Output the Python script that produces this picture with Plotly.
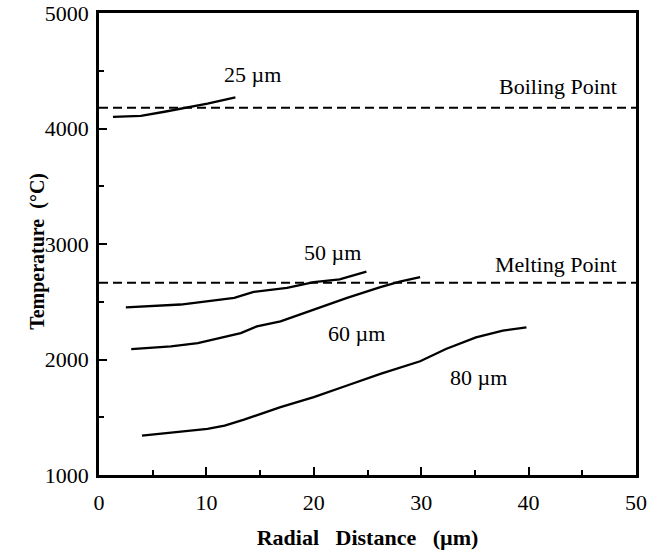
import plotly.graph_objects as go

# Data
x_25 = [1.3, 3.9, 6.1, 8.2, 10.1, 12.7]
y_25 = [4100, 4110, 4145, 4180, 4215, 4270]

x_50 = [2.5, 7.6, 12.6, 14.4, 17.5, 20.0, 22.4, 24.9]
y_50 = [2452, 2476, 2533, 2585, 2620, 2670, 2693, 2760]

x_60 = [3.0, 6.7, 9.2, 13.2, 14.7, 16.9, 20.0, 23.1, 26.2, 28.0, 29.9]
y_60 = [2090, 2113, 2142, 2229, 2287, 2330, 2432, 2533, 2626, 2675, 2713]

x_80 = [4.0, 10.1, 11.7, 13.5, 16.9, 20.0, 23.1, 26.2, 29.9, 32.3, 35.1, 37.6, 39.8]
y_80 = [1340, 1399, 1428, 1480, 1587, 1674, 1775, 1875, 1985, 2091, 2192, 2250, 2279]

boiling_point = 4180
melting_point = 2665
x_range = [0, 50]
y_range = [1000, 5000]

curve_labels = ["25 µm", "50 µm", "60 µm", "80 µm"]
label_x = [14.3, 21.7, 24.0, 35.3]
label_y = [4465, 2924, 2229, 1847]

FONT = "Liberation Serif, Times New Roman, serif"

fig = go.Figure()
for xs, ys in [(x_25, y_25), (x_50, y_50), (x_60, y_60), (x_80, y_80)]:
    fig.add_trace(go.Scatter(x=xs, y=ys, mode="lines",
                             line=dict(color="black", width=2.3),
                             showlegend=False, hoverinfo="skip"))

for val in [boiling_point, melting_point]:
    fig.add_trace(go.Scatter(x=x_range, y=[val, val], mode="lines",
                             line=dict(color="black", width=2, dash="9px,5px"),
                             showlegend=False, hoverinfo="skip"))

for t, lx, ly in zip(curve_labels, label_x, label_y):
    fig.add_annotation(x=lx, y=ly, text=t, showarrow=False,
                       font=dict(family=FONT, size=22, color="black"))

fig.add_annotation(x=48.4, y=4360, text="Boiling Point", showarrow=False,
                   xanchor="right", font=dict(family=FONT, size=22, color="black"))
fig.add_annotation(x=48.4, y=2823, text="Melting Point", showarrow=False,
                   xanchor="right", font=dict(family=FONT, size=22, color="black"))

# y-axis title placed as a rotated annotation to match the reference position
fig.add_annotation(xref="paper", yref="paper", x=0, y=0.483, xshift=-61,
                   text="<b>Temperature&nbsp;&nbsp;(°C)</b>", textangle=-90,
                   showarrow=False, xanchor="center", yanchor="middle",
                   font=dict(family=FONT, size=20, color="black"))

axis_common = dict(
    showgrid=False, zeroline=False, showline=True, linecolor="black",
    linewidth=2.5, mirror=True, ticks="inside", tickcolor="black",
    tickwidth=2, ticklen=8, automargin=False,
    tickfont=dict(family=FONT, size=22, color="black"),
)

fig.update_xaxes(range=x_range, tickvals=[0, 10, 20, 30, 40, 50],
                 minor=dict(tickvals=[5, 15, 25, 35, 45], ticks="inside",
                            ticklen=5, tickwidth=2, tickcolor="black"),
                 title=dict(text="<b>Radial&nbsp;&nbsp;&nbsp;Distance&nbsp;&nbsp;&nbsp;(µm)</b>",
                            font=dict(family=FONT, size=22, color="black"),
                            standoff=20),
                 ticklabelstandoff=6,
                 **axis_common)
fig.update_yaxes(range=y_range, tickvals=[1000, 2000, 3000, 4000, 5000],
                 minor=dict(tickvals=[1500, 2500, 3500, 4500], ticks="inside",
                            ticklen=5, tickwidth=2, tickcolor="black"),
                 ticklabelstandoff=3,
                 **axis_common)

fig.update_layout(
    width=658, height=550,
    margin=dict(l=99, r=22, t=13, b=75),
    plot_bgcolor="white", paper_bgcolor="white",
    font=dict(family=FONT, color="black"),
)

fig.write_html("out.html")
